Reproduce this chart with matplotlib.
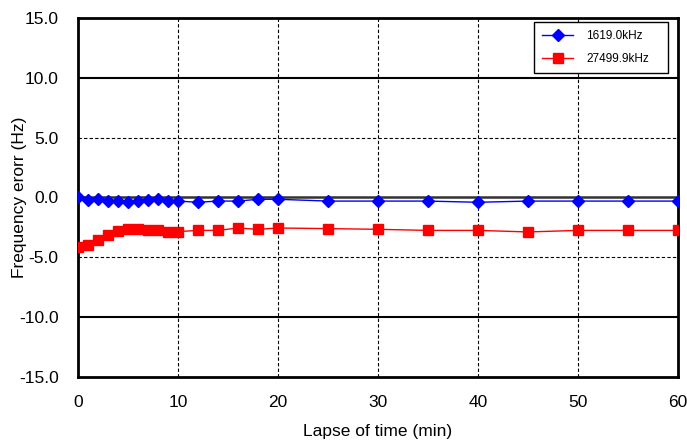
import numpy as np
import matplotlib
matplotlib.use('Agg')
import matplotlib.pyplot as plt

plt.rcParams['font.family'] = ['Liberation Sans', 'DejaVu Sans']

# Elapsed time (min) and frequency error (Hz)
minutes = [0, 1, 2, 3, 4, 5, 6, 7, 8, 9, 10, 12, 14, 16, 18, 20,
           25, 30, 35, 40, 45, 50, 55, 60]
err_1619 = [0.0, -0.17, -0.15, -0.3, -0.3, -0.4, -0.3, -0.25, -0.15, -0.3, -0.3,
            -0.4, -0.3, -0.3, -0.15, -0.15,
            -0.3, -0.3, -0.3, -0.4, -0.3, -0.3, -0.3, -0.3]
err_27499 = [-4.13, -3.97, -3.55, -3.16, -2.77, -2.66, -2.66, -2.7, -2.7, -2.85, -2.85,
             -2.75, -2.75, -2.55, -2.66, -2.55,
             -2.6, -2.66, -2.75, -2.75, -2.88, -2.75, -2.75, -2.75]

fig = plt.figure(figsize=(6.87, 4.43), dpi=100)
ax = fig.add_axes([0.1135, 0.149, 0.8735, 0.8104])

# Grid: dashed verticals, solid at 0/+-10, dashed at +-5
for xv in [10, 20, 30, 40, 50]:
    ax.axvline(xv, color='black', ls=(0, (3, 2)), lw=0.8, zorder=1)
for yv in [-5, 5]:
    ax.axhline(yv, color='black', ls=(0, (3, 2)), lw=0.8, zorder=1)
for yv in [-10, 10]:
    ax.axhline(yv, color='black', lw=1.5, zorder=1)
ax.axhline(0, color='#333333', lw=1.8, zorder=1)

ax.plot(minutes, err_1619, color='blue', lw=1, marker='D', ms=6,
        label='1619.0kHz', zorder=3)
ax.plot(minutes, err_27499, color='red', lw=1, marker='s', ms=7,
        label='27499.9kHz', zorder=3)

ax.set_xlim(0, 60)
ax.set_ylim(-15, 15)
ax.set_xticks(np.arange(0, 61, 10))
ax.set_yticks(np.arange(-15, 16, 5))
ax.set_yticklabels([f'{v:.1f}' for v in np.arange(-15, 16, 5)])
ax.tick_params(length=0, labelsize=12.5)
ax.tick_params(axis='x', pad=13)
ax.tick_params(axis='y', pad=14)
for sp in ax.spines.values():
    sp.set_linewidth(2)

ax.set_xlabel('Lapse of time (min)', fontsize=12.5, va='center')
ax.set_ylabel('Frequency erorr (Hz)', fontsize=12.5, va='center')
ax.xaxis.set_label_coords(0.5, -0.153)
ax.yaxis.set_label_coords(-0.097, 0.5)

leg = ax.legend(loc='upper right', bbox_to_anchor=(0.76, 0.86, 0.223, 0.129),
                mode='expand', fontsize=8.5, fancybox=False, framealpha=1,
                edgecolor='black', handlelength=2.6, handletextpad=1.1,
                borderpad=0.7, labelspacing=0.9, borderaxespad=0)
leg.get_frame().set_linewidth(1)

fig.savefig('out.png', dpi=100)
